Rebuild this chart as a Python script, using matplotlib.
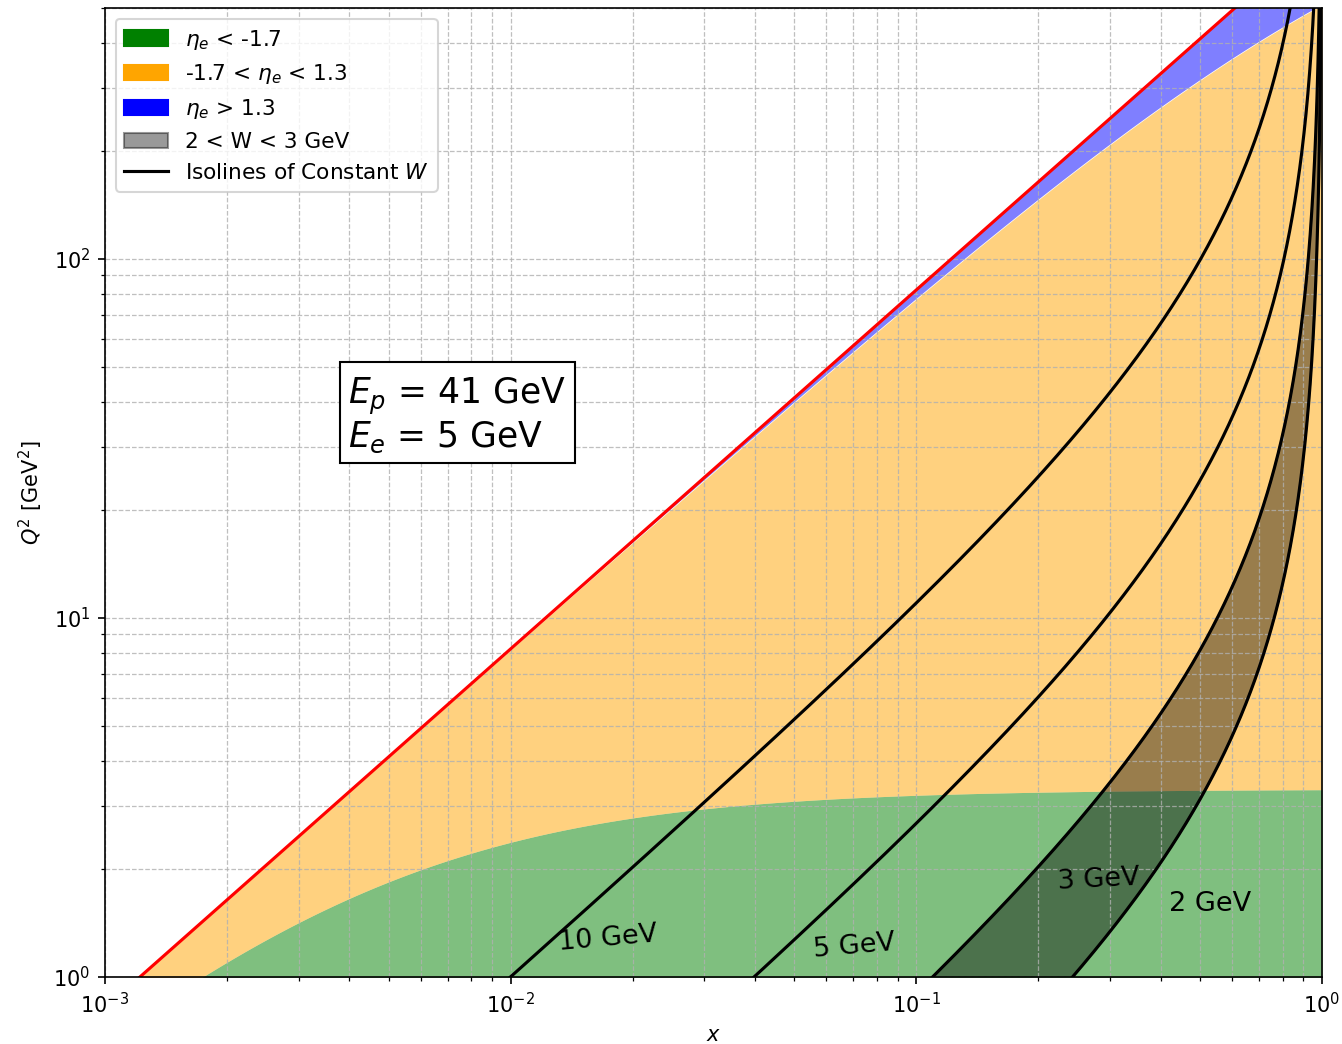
import numpy as np
import matplotlib
matplotlib.use("Agg")
import matplotlib.pyplot as plt
from matplotlib.patches import Patch
from matplotlib.lines import Line2D

# beam setup
E_p = 41.0   # GeV
E_e = 5.0    # GeV
M_p = 0.938  # proton mass, GeV

# electron pseudorapidity cuts
eta_low = -1.7
eta_high = 1.3

# invariant-mass isolines and their label positions / angles
W_values = [2, 3, 5, 10]
label_x = [0.529, 0.282, 0.0702, 0.0174]
label_q2 = [1.60, 1.86, 1.22, 1.28]
label_rot = [0, 3, 5, 5]

s = 4 * E_p * E_e

x = np.unique(np.concatenate([np.logspace(-3, 0, 3000, endpoint=False),
                              1 - np.logspace(-1, -5, 1500)]))


def q2_eta(eta, x):
    # Q^2 at fixed electron pseudorapidity as function of x
    a = 4 * E_e**2 * np.exp(2 * eta)
    return a / (1 + a / (s * x))


def q2_W(W, x):
    return (W**2 - M_p**2) * x / (1 - x)


q2_max = s * x           # y = 1
q2_green = q2_eta(eta_low, x)
q2_blue = q2_eta(eta_high, x)

fig, ax = plt.subplots(figsize=(1342 / 150, 1044 / 150), dpi=150)
fig.subplots_adjust(left=0.0782, right=0.9851, bottom=0.0642, top=0.9923)

ax.fill_between(x, 0.1, q2_green, color='green', alpha=0.5, lw=0)
ax.fill_between(x, q2_green, q2_blue, color='orange', alpha=0.5, lw=0)
ax.fill_between(x, q2_blue, q2_max, color='blue', alpha=0.5, lw=0)

band = ax.fill_between(x, q2_W(2, x), q2_W(3, x), color='black', alpha=0.4,
                       label='2 < W < 3 GeV')

ax.plot(x, q2_max, color='red', lw=1.5)
for W, lx, ly, rot in zip(W_values, label_x, label_q2, label_rot):
    ax.plot(x, q2_W(W, x), color='black', lw=1.5)
    ax.text(lx, ly, f'{W} GeV', fontsize=13, rotation=rot,
            ha='center', va='center')

ax.set_xscale('log')
ax.set_yscale('log')
ax.set_xlim(1e-3, 1)
ax.set_ylim(1, 500)
ax.set_xlabel('$x$')
ax.set_ylabel('$Q^2$ [GeV$^2$]')
ax.grid(True, which='both', linestyle='--', linewidth=0.6, color='#b0b0b0', alpha=0.8)

ax.text(0.2, 0.58, '$E_p$ = 41 GeV\n$E_e$ = 5 GeV', transform=ax.transAxes,
        fontsize=16.6, ha='left', va='center', linespacing=1.1,
        bbox=dict(facecolor='white', edgecolor='black', pad=4))

handles = [Patch(color='green', label=r'$\eta_e$ < -1.7'),
           Patch(color='orange', label=r'-1.7 < $\eta_e$ < 1.3'),
           Patch(color='blue', label=r'$\eta_e$ > 1.3'),
           band,
           Line2D([], [], color='black', lw=1.5, label='Isolines of Constant $W$')]
ax.legend(handles=handles, loc='upper left', fontsize=10.4)

fig.savefig('out.png', dpi=150)
